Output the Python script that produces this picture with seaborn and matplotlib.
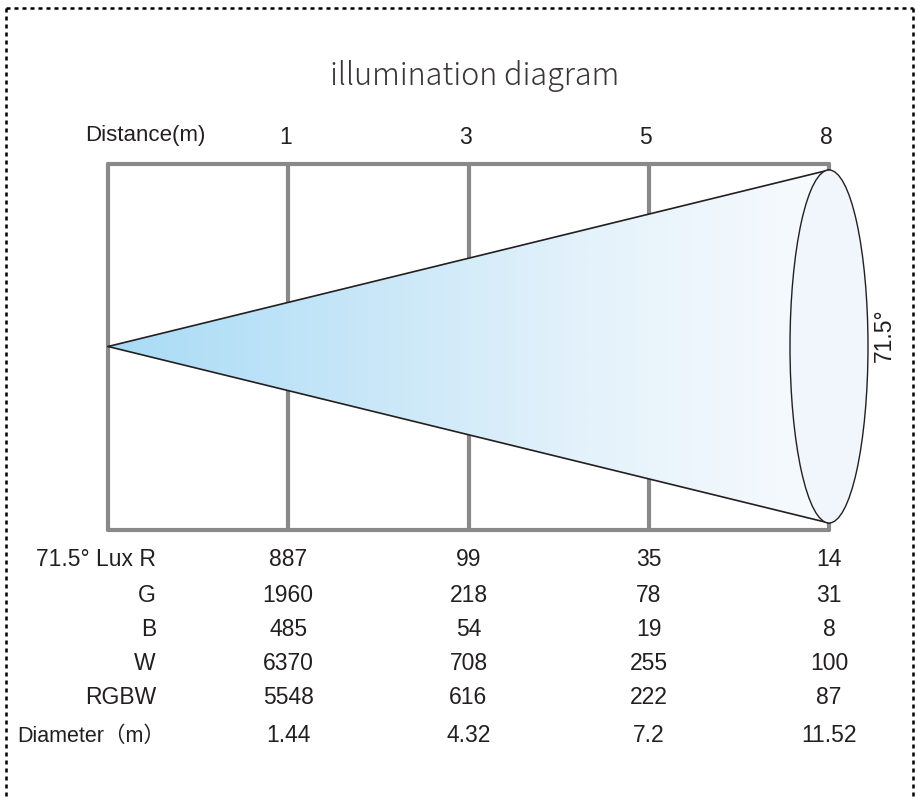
import numpy as np
import matplotlib
matplotlib.use("Agg")
import matplotlib.pyplot as plt
import seaborn as sns
import pandas as pd
from matplotlib.patches import Ellipse, Polygon
from matplotlib.colors import LinearSegmentedColormap

# ---------------- data ----------------
title = "illumination diagram"
distance_label = "Distance(m)"
distances = ["1", "3", "5", "8"]
beam_angle = "71.5°"
row_labels = ["71.5° Lux R", "G", "B", "W", "RGBW", "Diameter（m）"]
lux_R = [887, 99, 35, 14]
lux_G = [1960, 218, 78, 31]
lux_B = [485, 54, 19, 8]
lux_W = [6370, 708, 255, 100]
lux_RGBW = [5548, 616, 222, 87]
diameter = ["1.44", "4.32", "7.2", "11.52"]

# ---------------- layout ----------------
W, H = 916, 799
sns.set_theme(style="white")
plt.rcParams['font.family'] = ['Liberation Sans', 'Noto Sans CJK JP', 'DejaVu Sans']
TXT = '#231f20'
GREY = '#898989'
FS = 16.5

fig = plt.figure(figsize=(W / 100, H / 100), dpi=100)
ax = fig.add_axes([0, 0, 1, 1])

x0 = 108
step = 180.25
col_x = [x0 + step * (i + 1) for i in range(len(distances))]
x_end = col_x[-1]
y_top, y_bot = 164, 530
cone_top, cone_bot = 170, 523
apex_y = (cone_top + cone_bot) / 2

# grid lines (frame + distance columns)
segs = []
for i, xx in enumerate([x0] + col_x):
    segs.append(pd.DataFrame({'x': [xx, xx], 'y': [y_top, y_bot], 'id': f'v{i}'}))
segs.append(pd.DataFrame({'x': [x0, x_end], 'y': [y_top, y_top], 'id': 'htop'}))
segs.append(pd.DataFrame({'x': [x0, x_end], 'y': [y_bot, y_bot], 'id': 'hbot'}))
grid_df = pd.concat(segs, ignore_index=True)
sns.lineplot(data=grid_df, x='x', y='y', units='id', estimator=None, sort=False,
             color=GREY, lw=3, ax=ax, zorder=1, legend=False)

# beam gradient clipped to cone
grad = np.linspace(0, 1, 512).reshape(1, -1)
cmap = LinearSegmentedColormap.from_list('beam', ['#a8dbf6', '#c6e6f8', '#e4f2fb', '#f8fbfe'])
im = ax.imshow(grad, extent=[x0, x_end, cone_bot, cone_top], cmap=cmap,
               aspect='auto', zorder=2, interpolation='bilinear')
poly = Polygon([[x0, apex_y], [x_end, cone_top], [x_end, cone_bot]], closed=True,
               transform=ax.transData)
im.set_clip_path(poly)

# cone edges
edge_df = pd.DataFrame({'x': [x0, x_end, x0, x_end],
                        'y': [apex_y, cone_top, apex_y, cone_bot],
                        'id': ['a', 'a', 'b', 'b']})
sns.lineplot(data=edge_df, x='x', y='y', units='id', estimator=None, sort=False,
             color=TXT, lw=1.2, ax=ax, zorder=3, legend=False)

# beam end ellipse
ax.add_patch(Ellipse((x_end, apex_y), width=78, height=cone_bot - cone_top,
                     facecolor='#f0f6fb', edgecolor=TXT, lw=1.0, zorder=4))

# beam angle label
ax.text(884, 335, beam_angle, rotation=90, ha='center', va='center',
        fontsize=FS, color=TXT, zorder=5)

# title
ax.text(W / 2 + 17, 76, title, ha='center', va='center', fontsize=22,
        family=['Noto Sans CJK JP', 'DejaVu Sans'], weight='light', color='#3a3536')

# distance header
ax.text(145, 136, distance_label, ha='center', va='center', fontsize=16, color=TXT)
for xx, d in zip(col_x, distances):
    ax.text(xx - 3, 138, d, ha='center', va='center', fontsize=FS, color=TXT)

# table
row_y = [560, 595, 629, 663, 698, 736]
rows = [lux_R, lux_G, lux_B, lux_W, lux_RGBW, diameter]
for yy, lab, vals in zip(row_y, row_labels, rows):
    if lab.endswith('）'):
        ax.text(165, yy, lab, ha='right', va='center', fontsize=15.5, color=TXT)
    else:
        ax.text(156, yy, lab, ha='right', va='center', fontsize=FS, color=TXT)
    for xx, v in zip(col_x, vals):
        ax.text(xx, yy, str(v), ha='center', va='center', fontsize=FS, color=TXT)

# dotted border
bkw = dict(color='black', lw=1.8, linestyle=(0, (1.6, 1.6)), zorder=6)
ax.plot([6, 913], [8, 8], **bkw)
ax.plot([6, 6], [8, H + 5], **bkw)
ax.plot([913, 913], [8, H + 5], **bkw)

ax.set_xlim(0, W)
ax.set_ylim(H, 0)
ax.axis('off')
fig.savefig('out.png', dpi=100)
